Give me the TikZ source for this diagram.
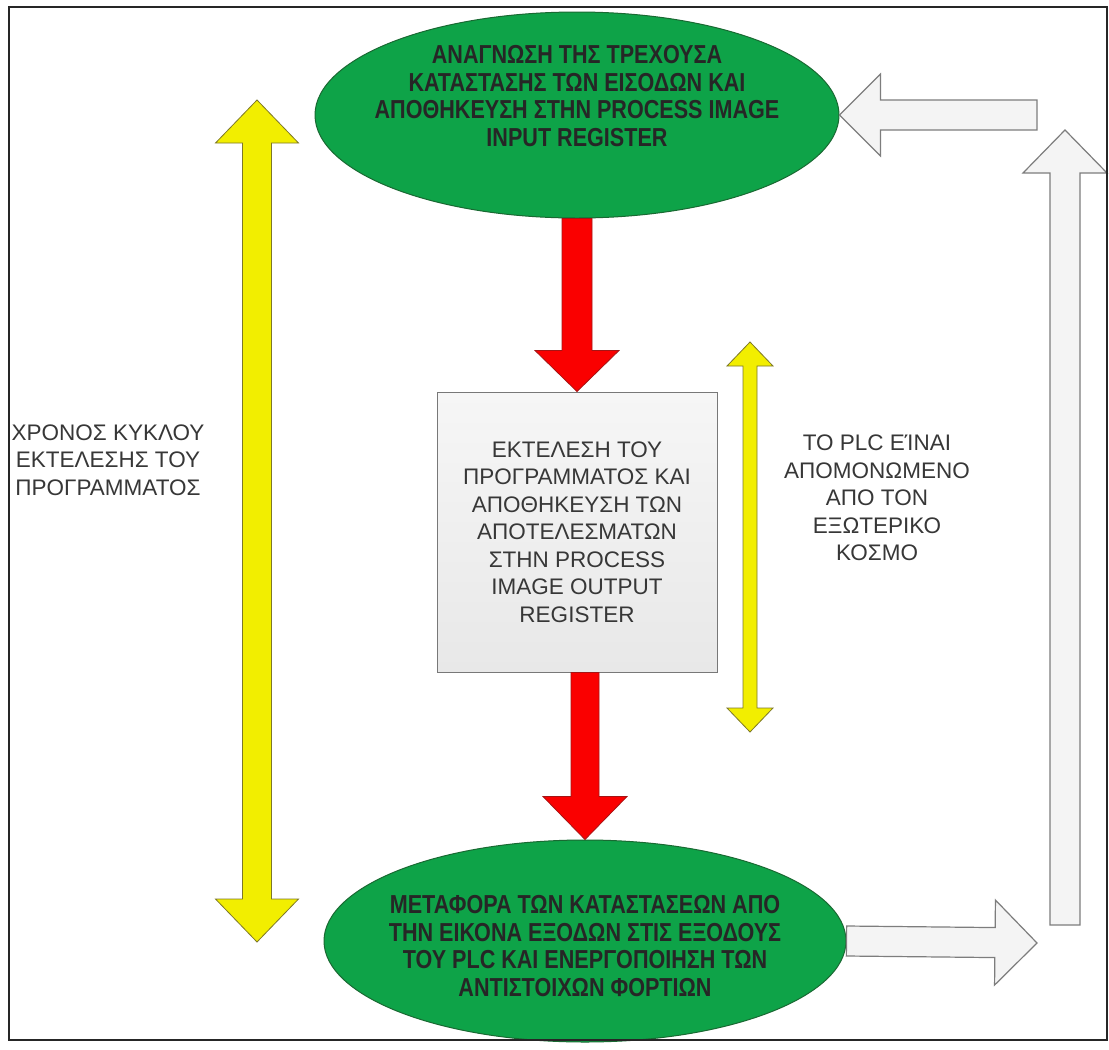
\documentclass[tikz,border=0pt]{standalone}
\usepackage{fontspec}
\setmainfont{Liberation Sans}
\usetikzlibrary{shapes.geometric,calc}

\definecolor{stagefill}{RGB}{14,163,72}
\definecolor{stageedge}{RGB}{25,105,50}
\definecolor{boxtop}{RGB}{246,246,246}
\definecolor{boxbottom}{RGB}{232,232,232}
\definecolor{boxedge}{RGB}{120,120,120}
\definecolor{redfill}{RGB}{250,0,0}
\definecolor{rededge}{RGB}{165,20,20}
\definecolor{yelfill}{RGB}{242,238,0}
\definecolor{yeledge}{RGB}{125,120,40}
\definecolor{grayfill}{RGB}{244,244,244}
\definecolor{grayedge}{RGB}{125,125,125}
\definecolor{labeltext}{RGB}{55,55,55}

% block arrow: style, from, to, half shaft, half head, head length
\newcommand{\blockarrow}[6]{%
  \coordinate (ba-c) at ($(#3)!#6!(#2)$);
  \draw[#1] ($(#2)!#4!90:(#3)$) -- ($(ba-c)!#4!90:(#3)$) -- ($(ba-c)!#5!90:(#3)$) -- (#3)
    -- ($(ba-c)!#5!-90:(#3)$) -- ($(ba-c)!#4!-90:(#3)$) -- ($(#2)!#4!-90:(#3)$) -- cycle;
}
% same with a head at both ends
\newcommand{\dblarrow}[6]{%
  \coordinate (da-a) at ($(#2)!#6!(#3)$);
  \coordinate (da-b) at ($(#3)!#6!(#2)$);
  \draw[#1] (#2) -- ($(da-a)!#5!-90:(#3)$) -- ($(da-a)!#4!-90:(#3)$) -- ($(da-b)!#4!-90:(#3)$)
    -- ($(da-b)!#5!-90:(#3)$) -- (#3) -- ($(da-b)!#5!90:(#3)$) -- ($(da-b)!#4!90:(#3)$)
    -- ($(da-a)!#4!90:(#3)$) -- ($(da-a)!#5!90:(#3)$) -- cycle;
}

\begin{document}
\begin{tikzpicture}[x=1pt,y=-1pt,
  stage/.style={ellipse,fill=stagefill,draw=stageedge,line width=1pt,inner sep=0pt},
  task/.style={rectangle,draw=boxedge,line width=1pt,top color=boxtop,bottom color=boxbottom,minimum width=280pt,minimum height=280pt,inner sep=0pt},
  txt/.style={font=\fontsize{22.5}{27.5}\selectfont,align=center,inner sep=0pt},
  stagetxt/.style={font=\fontsize{26}{27.5}\selectfont\bfseries,align=center,inner sep=0pt,xscale=.83,text=black!85},
  redarr/.style={fill=redfill,draw=rededge,line width=.8pt},
  yelarr/.style={fill=yelfill,draw=yeledge,line width=.8pt},
  grayarr/.style={fill=grayfill,draw=grayedge,line width=1.2pt}]
  \useasboundingbox (0,0) rectangle (1109,1050);
  \fill[white] (0,0) rectangle (1109,1050);

  \node[stage,minimum width=524pt,minimum height=206pt] (readin) at (577,115) {};
  \node[stagetxt] at ([yshift=19pt]readin.center) {ΑΝΑΓΝΩΣΗ ΤΗΣ ΤΡΕΧΟΥΣΑ\\ΚΑΤΑΣΤΑΣΗΣ ΤΩΝ ΕΙΣΟΔΩΝ ΚΑΙ\\ΑΠΟΘΗΚΕΥΣΗ ΣΤΗΝ PROCESS IMAGE\\INPUT REGISTER};
  \node[task] (exec) at (577,532) {};
  \node[txt,text=labeltext] at (exec.center) {ΕΚΤΕΛΕΣΗ ΤΟΥ\\ΠΡΟΓΡΑΜΜΑΤΟΣ ΚΑΙ\\ΑΠΟΘΗΚΕΥΣΗ ΤΩΝ\\ΑΠΟΤΕΛΕΣΜΑΤΩΝ\\ΣΤΗΝ PROCESS\\IMAGE OUTPUT\\REGISTER};
  \node[stage,minimum width=522pt,minimum height=202pt] (writeout) at (585,941) {};
  \node[stagetxt] at ([yshift=-5pt]writeout.center) {ΜΕΤΑΦΟΡΑ ΤΩΝ ΚΑΤΑΣΤΑΣΕΩΝ ΑΠΟ\\ΤΗΝ ΕΙΚΟΝΑ ΕΞΟΔΩΝ ΣΤΙΣ ΕΞΟΔΟΥΣ\\ΤΟΥ PLC ΚΑΙ ΕΝΕΡΓΟΠΟΙΗΣΗ ΤΩΝ\\ΑΝΤΙΣΤΟΙΧΩΝ ΦΟΡΤΙΩΝ};

  \node[txt,text=labeltext] (cyclelbl) at (108,460) {ΧΡΟΝΟΣ ΚΥΚΛΟΥ\\ΕΚΤΕΛΕΣΗΣ ΤΟΥ\\ΠΡΟΓΡΑΜΜΑΤΟΣ};
  \node[txt,text=labeltext] (isolbl) at (877,498) {ΤΟ PLC ΕΊΝΑΙ\\ΑΠΟΜΟΝΩΜΕΝΟ\\ΑΠΟ ΤΟΝ\\ΕΞΩΤΕΡΙΚΟ\\ΚΟΣΜΟ};

  % red flow
  \coordinate (execout) at (exec.south -| writeout.north);
  \blockarrow{redarr}{readin.south}{exec.north}{15pt}{42pt}{41pt}
  \blockarrow{redarr}{execout}{writeout.north}{14pt}{42pt}{43pt}

  % yellow time spans
  \coordinate (cycletop) at (257,100);
  \coordinate (cyclebot) at (257,942);
  \coordinate (isotop) at (750,342);
  \coordinate (isobot) at (750,732);
  \dblarrow{yelarr}{cycletop}{cyclebot}{14.5pt}{41.5pt}{43pt}
  \dblarrow{yelarr}{isotop}{isobot}{7pt}{23pt}{24pt}

  % outside world loop
  \coordinate (inright) at (1037,115);
  \coordinate (upbot) at (1065,925);
  \coordinate (uptop) at (1065,130);
  \coordinate (outright) at (1037,943);
  \blockarrow{grayarr}{inright}{readin.east}{15pt}{41pt}{41pt}
  \blockarrow{grayarr}{upbot}{uptop}{15pt}{42pt}{43pt}
  \blockarrow{grayarr}{writeout.east}{outright}{15pt}{42.5pt}{42pt}

  \draw[black!85,line width=2.2pt] (9,7) rectangle (1107,1040);
\end{tikzpicture}
\end{document}
